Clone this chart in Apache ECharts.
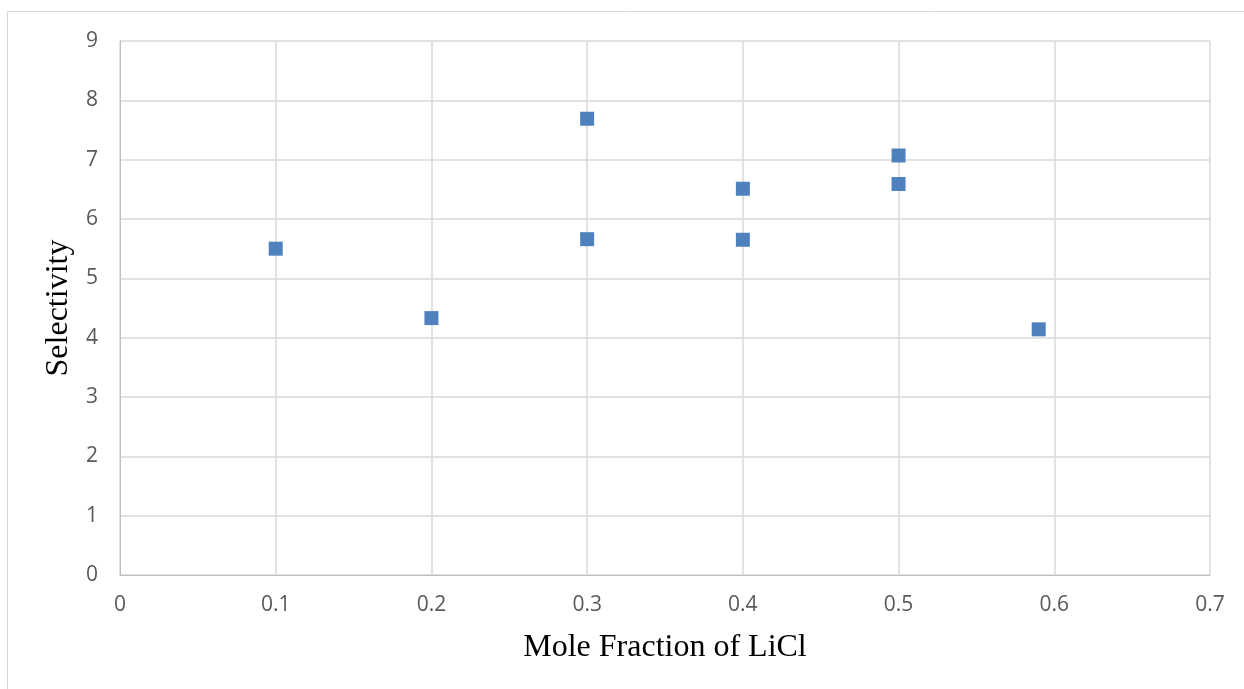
<!DOCTYPE html>
<html>
<head>
<meta charset="utf-8">
<script src="https://cdn.jsdelivr.net/npm/echarts@6/dist/echarts.min.js"></script>
<style>
  html, body { margin: 0; padding: 0; background: #ffffff; }
  #chart { width: 1244px; height: 689px; }
</style>
</head>
<body>
<div id="chart"></div>
<script>
// Selectivity measured at each LiCl mole fraction
const moleFraction = [0.1, 0.2, 0.3, 0.3, 0.4, 0.4, 0.5, 0.5, 0.59];
const selectivity  = [5.50, 4.33, 7.69, 5.66, 6.51, 5.65, 7.07, 6.59, 4.14];

const xTitle = 'Mole Fraction of LiCl';
const yTitle = 'Selectivity';

const points = moleFraction.map((x, i) => [x, selectivity[i]]);

const chart = echarts.init(document.getElementById('chart'), null, { renderer: 'canvas' });

const tickFont = { fontFamily: 'Open Sans', fontSize: 21, color: '#595959' };
const titleFont = { fontFamily: 'Liberation Serif', fontSize: 32, color: '#000000' };

chart.setOption({
  backgroundColor: '#ffffff',
  animation: false,
  graphic: [{
    type: 'rect',
    shape: { x: 7.5, y: 11.5, width: 1400, height: 900 },
    style: { fill: 'none', stroke: '#d9d9d9', lineWidth: 1 },
    silent: true,
    z: -1
  }],
  grid: { left: 120, top: 41, right: 34, bottom: 114, containLabel: false },
  xAxis: {
    type: 'value',
    min: 0, max: 0.7, interval: 0.1,
    name: xTitle,
    nameLocation: 'middle',
    nameGap: 57,
    nameTextStyle: titleFont,
    axisLine: { show: true, lineStyle: { color: '#bfbfbf', width: 1 } },
    axisTick: { show: false },
    axisLabel: Object.assign({ margin: 20, formatter: v => String(Math.round(v * 10) / 10) }, tickFont),
    splitLine: { show: true, lineStyle: { color: '#d9d9d9', width: 1.5 } }
  },
  yAxis: {
    type: 'value',
    min: 0, max: 9, interval: 1,
    name: yTitle,
    nameLocation: 'middle',
    nameGap: 40,
    nameTextStyle: titleFont,
    axisLine: { show: true, lineStyle: { color: '#bfbfbf', width: 1 } },
    axisTick: { show: false },
    axisLabel: Object.assign({ margin: 22 }, tickFont),
    splitLine: { show: true, lineStyle: { color: '#d9d9d9', width: 1.5 } }
  },
  series: [{
    type: 'scatter',
    data: points,
    symbol: 'rect',
    symbolSize: 14,
    itemStyle: { color: '#4f81bd', opacity: 1 },
    z: 3
  }]
});
</script>
</body>
</html>
